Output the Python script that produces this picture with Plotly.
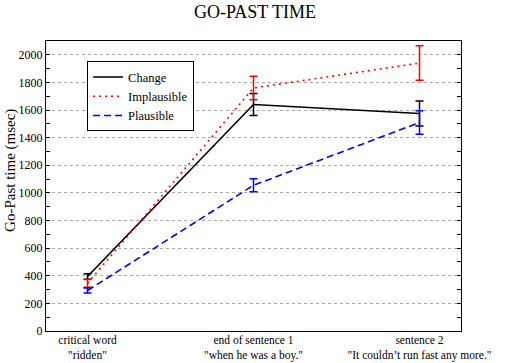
import plotly.graph_objects as go

categories = ['critical word<br>"ridden"', 'end of sentence 1<br>"when he was a boy."',
              'sentence 2<br>"It couldn\u2019t run fast any more."']
x_pos = [0, 1, 2]
change = [395, 1640, 1575]
change_err = [20, 80, 90]
implausible = [345, 1760, 1940]
implausible_err = [28, 85, 125]
plausible = [293, 1055, 1510]
plausible_err = [18, 47, 85]

FONT = "Liberation Serif"

fig = go.Figure()
series = [
    ("Change", change, change_err, "black", "solid"),
    ("Implausible", implausible, implausible_err, "red", "2px,4px"),
    ("Plausible", plausible, plausible_err, "blue", "7px,4px"),
]
for name, vals, errs, col, dash in series:
    fig.add_trace(go.Scatter(
        x=x_pos, y=vals, name=name, mode="lines",
        line=dict(color=col, width=1.6, dash=dash),
        error_y=dict(type="data", array=errs, visible=True, color=col, thickness=1.5, width=4),
    ))

fig.update_layout(
    width=510, height=363,
    margin=dict(l=46, r=49, t=41, b=32, autoexpand=False),
    paper_bgcolor="white", plot_bgcolor="white",
    font=dict(family=FONT, size=12, color="black"),
    title=dict(text="GO-PAST TIME", x=0.5, xanchor="center", y=0.968, yanchor="middle",
               font=dict(family=FONT, size=18, color="black")),
    legend=dict(x=0.099, y=0.93, xanchor="left", yanchor="top",
                bordercolor="black", borderwidth=1, bgcolor="white",
                font=dict(family=FONT, size=12.5), tracegroupgap=0,
                itemwidth=30),
    showlegend=True,
    annotations=[dict(text="Go-Past time (msec)", textangle=-90, showarrow=False,
                      xref="paper", yref="paper", x=-0.087, y=0.555,
                      xanchor="center", yanchor="middle",
                      font=dict(family=FONT, size=15, color="black"))],
)
fig.update_xaxes(
    range=[-0.25, 2.25], tickmode="array", tickvals=x_pos, ticktext=categories,
    showgrid=False, showline=True, linecolor="black", linewidth=1, mirror=True,
    ticks="", zeroline=False, tickfont=dict(family=FONT, size=11.5), automargin=False,
    ticklabelstandoff=-2,
)
fig.update_yaxes(
    range=[0, 2100], tickmode="linear", tick0=0, dtick=200,
    showgrid=True, gridcolor="#aaaaaa", griddash="dot", gridwidth=1,
    showline=True, linecolor="black", linewidth=1, mirror="ticks",
    ticks="inside", ticklen=4, tickcolor="black", zeroline=False,
    minor=dict(dtick=100, ticks="inside", ticklen=4, tickcolor="black", showgrid=False),
    tickfont=dict(family=FONT, size=12), automargin=False,
)

fig.write_html("out.html", config={"displayModeBar": False},
               post_script="document.body.style.margin='0';document.body.style.overflow='hidden';")
